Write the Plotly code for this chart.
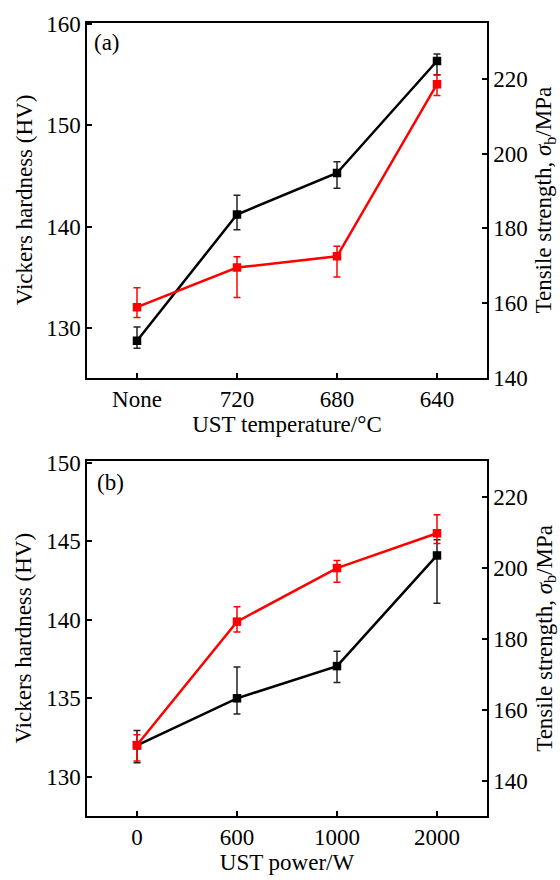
import plotly.graph_objects as go

# ---------- data ----------
temp_labels = ["None", "720", "680", "640"]
hv_temp = [128.75, 141.2, 145.3, 156.35]
hv_temp_plus = [1.35, 1.9, 1.1, 0.7]
hv_temp_minus = [0.75, 1.5, 1.5, 1.35]
ts_temp = [158.9, 169.5, 172.5, 218.6]
ts_temp_plus = [5.2, 2.9, 2.7, 2.5]
ts_temp_minus = [2.8, 8.0, 5.5, 3.0]

power_labels = ["0", "600", "1000", "2000"]
hv_power = [132.0, 135.0, 137.05, 144.1]
hv_power_plus = [0.95, 2.0, 0.95, 1.0]
hv_power_minus = [1.1, 1.0, 1.05, 3.05]
ts_power = [150.0, 184.8, 199.9, 209.7]
ts_power_plus = [2.9, 4.2, 2.1, 5.2]
ts_power_minus = [4.5, 2.9, 4.0, 2.9]

FONT = "Liberation Serif"
FS = 23
RED = "#ff0000"
BLACK = "#000000"

fig = go.Figure()

def add_pair(xlabels, hv, hvp, hvm, ts, tsp, tsm, xa, ya_l, ya_r):
    fig.add_trace(go.Scatter(
        x=xlabels, y=hv, xaxis=xa, yaxis=ya_l, mode="lines+markers",
        line=dict(color=BLACK, width=2.5),
        marker=dict(symbol="square", size=8.5, color=BLACK),
        error_y=dict(type="data", symmetric=False, array=hvp, arrayminus=hvm,
                     color="#222222", thickness=1.5, width=3.5),
        showlegend=False, hoverinfo="skip"))
    fig.add_trace(go.Scatter(
        x=xlabels, y=ts, xaxis=xa, yaxis=ya_r, mode="lines+markers",
        line=dict(color=RED, width=2.5),
        marker=dict(symbol="square", size=8.5, color=RED),
        error_y=dict(type="data", symmetric=False, array=tsp, arrayminus=tsm,
                     color=RED, thickness=1.5, width=3.5),
        showlegend=False, hoverinfo="skip"))

add_pair(temp_labels, hv_temp, hv_temp_plus, hv_temp_minus,
         ts_temp, ts_temp_plus, ts_temp_minus, "x", "y", "y2")
add_pair(power_labels, hv_power, hv_power_plus, hv_power_minus,
         ts_power, ts_power_plus, ts_power_minus, "x2", "y3", "y4")

tickfont = dict(family=FONT, size=FS, color="black")
titlefont = dict(family=FONT, size=FS, color="black")
common_axis = dict(showgrid=False, zeroline=False, showline=True,
                   linecolor="black", linewidth=1.5, ticks="inside",
                   ticklen=5, tickwidth=1.5, tickcolor="black",
                   tickfont=tickfont)

dom_a = [0.5527, 1.0]
dom_b = [0.0, 0.4473]

left_title = "Vickers hardness (HV)"
right_title = "Tensile strength, <i>σ</i><sub>b</sub>/MPa"

def ytitle(text, x, y):
    return dict(text=text, xref="paper", yref="paper", x=x, y=y,
                xanchor="center", yanchor="middle", textangle=-90,
                showarrow=False, font=titlefont)

fig.update_layout(
    width=560, height=880,
    margin=dict(l=87, r=73, t=20, b=53),
    paper_bgcolor="white", plot_bgcolor="white",
    font=dict(family=FONT, size=FS, color="black"),
    xaxis=dict(common_axis, type="category", range=[-0.5, 3.5], anchor="y",
               domain=[0, 1], mirror=True,
               title=dict(text="UST temperature/°C", font=titlefont, standoff=0)),
    yaxis=dict(common_axis, range=[125.1, 160.1], domain=dom_a, anchor="x",
               tickvals=[130, 140, 150, 160]),
    yaxis2=dict(common_axis, range=[140, 235], overlaying="y", side="right",
                anchor="x", tickvals=[140, 160, 180, 200, 220]),
    xaxis2=dict(common_axis, type="category", range=[-0.5, 3.5], anchor="y3",
                domain=[0, 1], mirror=True,
                title=dict(text="UST power/W", font=titlefont, standoff=2)),
    yaxis3=dict(common_axis, range=[127.5, 150.1], domain=dom_b, anchor="x2",
                tickvals=[130, 135, 140, 145, 150]),
    yaxis4=dict(common_axis, range=[130, 230], overlaying="y3", side="right",
                anchor="x2", tickvals=[140, 160, 180, 200, 220]),
    annotations=[
        dict(text="(a)", xref="paper", yref="paper", x=0.05, y=0.975,
             xanchor="center", yanchor="middle", showarrow=False,
             font=dict(family=FONT, size=FS, color="black")),
        dict(text="(b)", xref="paper", yref="paper", x=0.0575, y=0.42,
             xanchor="center", yanchor="middle", showarrow=False,
             font=dict(family=FONT, size=FS, color="black")),
        ytitle(left_title, -0.1575, 0.7764),
        ytitle(right_title, 1.1455, 0.7764),
        ytitle(left_title, -0.1575, 0.2237),
        ytitle(right_title, 1.1455, 0.2237),
    ],
)

fig.write_html(
    "out.html",
    config={"displayModeBar": False},
    post_script="document.body.style.margin='0';document.body.style.overflow='hidden';",
)
